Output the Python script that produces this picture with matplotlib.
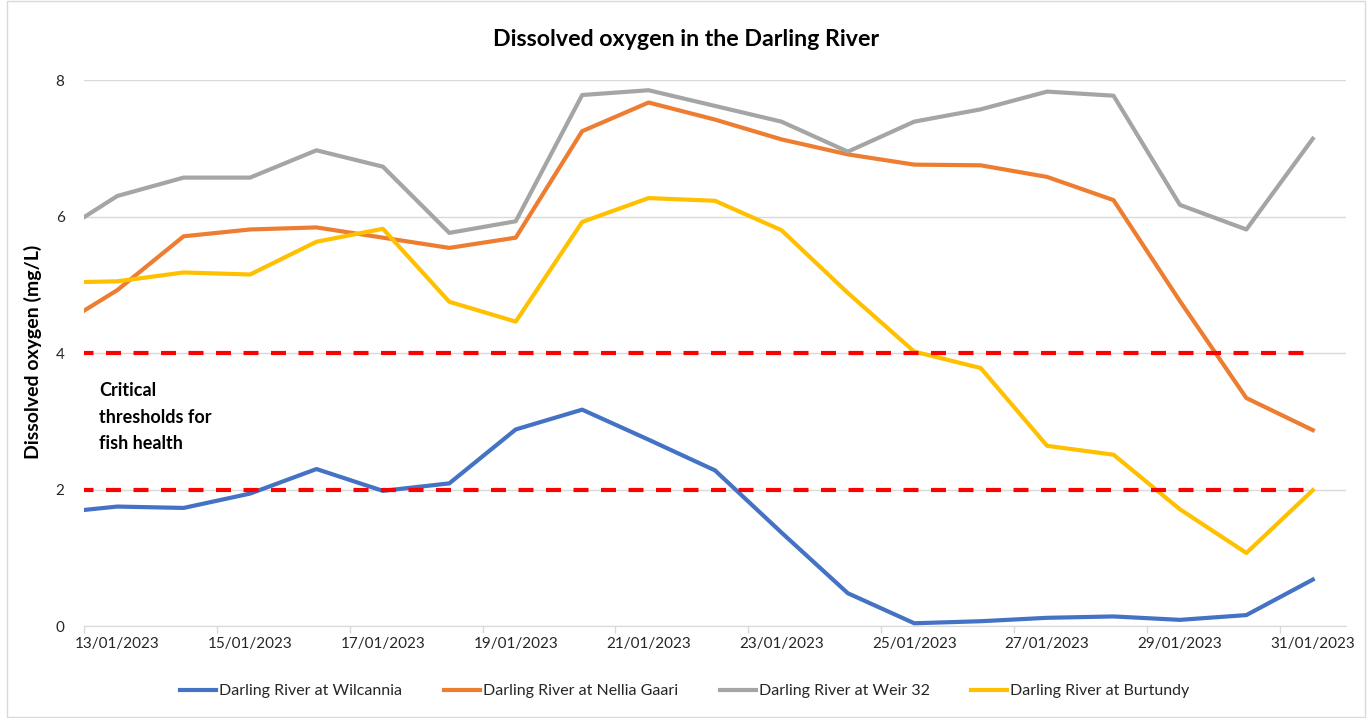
import numpy as np
import matplotlib
matplotlib.use("Agg")
import matplotlib.pyplot as plt
import pandas as pd
from matplotlib.patches import Rectangle

plt.rcParams['font.family'] = ['Lato', 'DejaVu Sans']

# Daily readings; the first (12/01) point sits just off the left of the axis
dates = ['12/01/2023', '13/01/2023', '14/01/2023', '15/01/2023', '16/01/2023',
         '17/01/2023', '18/01/2023', '19/01/2023', '20/01/2023', '21/01/2023',
         '22/01/2023', '23/01/2023', '24/01/2023', '25/01/2023', '26/01/2023',
         '27/01/2023', '28/01/2023', '29/01/2023', '30/01/2023', '31/01/2023']

wilcannia = [1.65, 1.75, 1.73, 1.94, 2.30, 1.98, 2.09, 2.88, 3.17, 2.73,
             2.28, 1.37, 0.48, 0.04, 0.07, 0.12, 0.14, 0.09, 0.16, 0.68]
nellia_gaari = [4.32, 4.92, 5.71, 5.81, 5.84, 5.69, 5.54, 5.69, 7.25, 7.67,
                7.42, 7.13, 6.91, 6.76, 6.75, 6.58, 6.24, 4.76, 3.34, 2.87]
weir_32 = [5.68, 6.30, 6.57, 6.57, 6.97, 6.73, 5.76, 5.93, 7.78, 7.85,
           7.62, 7.39, 6.95, 7.39, 7.57, 7.83, 7.77, 6.17, 5.81, 7.14]
burtundy = [5.03, 5.05, 5.18, 5.15, 5.63, 5.82, 4.75, 4.46, 5.92, 6.27,
            6.23, 5.80, 4.88, 4.02, 3.78, 2.64, 2.51, 1.71, 1.07, 1.99]

thresholds = [4, 2]

series = [
    ('Darling River at Wilcannia', wilcannia, '#4472C4'),
    ('Darling River at Nellia Gaari', nellia_gaari, '#ED7D31'),
    ('Darling River at Weir 32', weir_32, '#A5A5A5'),
    ('Darling River at Burtundy', burtundy, '#FFC000'),
]

day = pd.to_datetime(dates, dayfirst=True)
x = day + pd.Timedelta(hours=12)   # points sit in the middle of each day slot

fig = plt.figure(figsize=(13.69, 7.18), dpi=100)
ax = fig.add_axes([84 / 1369, 1 - 626 / 718, 1262 / 1369, 546 / 718])

for label, vals, col in series:
    ax.plot(x, vals, color=col, lw=3.0, label=label, solid_joinstyle='round')

for t in thresholds:
    ax.plot(x, [t] * len(x), color='#FF0000', lw=3.0, dashes=(3.6, 3.0),
            dash_capstyle='butt')

ax.set_ylim(0, 8)
ax.set_yticks([0, 2, 4, 6, 8])
ax.set_xlim(day[1], day[-1] + pd.Timedelta(days=1))

major = day[1::2]
ax.set_xticks(major)
ax.set_xticklabels([])
ax.set_xticks(major + pd.Timedelta(hours=12), minor=True)
ax.set_xticklabels([d.strftime('%d/%m/%Y') for d in major], minor=True)
ax.tick_params(axis='x', which='major', length=5, color='#D9D9D9', width=1)
ax.tick_params(axis='x', which='minor', length=0, labelsize=11, pad=8,
               labelcolor='#262626')
ax.tick_params(axis='y', length=0, labelsize=11, pad=14, labelcolor='#262626')

ax.grid(axis='y', color='#D9D9D9', lw=1)
ax.set_axisbelow(True)
for s in ['top', 'right', 'left']:
    ax.spines[s].set_visible(False)
ax.spines['bottom'].set_color('#D9D9D9')

ax.set_ylabel('Dissolved oxygen (mg/L)', fontsize=14, fontweight='bold')
ax.yaxis.set_label_coords(-(84 - 42) / 1262, 1 - (352 - 80) / 546)
fig.text(686 / 1369, 1 - 40 / 718, 'Dissolved oxygen in the Darling River',
         ha='center', va='center', fontsize=16.7, fontweight='bold')

ax.text(15 / 1262, 1 - 302 / 546, 'Critical\nthresholds for\nfish health',
        transform=ax.transAxes, ha='left', va='top', fontsize=13,
        fontweight='bold', linespacing=1.68)

handles, labels = ax.get_legend_handles_labels()
fig.legend(handles, labels, loc='center', bbox_to_anchor=(685 / 1369, 1 - 691 / 718),
           ncol=4, frameon=False, fontsize=11.5, handlelength=2.25, handletextpad=0.2,
           columnspacing=2.6, labelcolor='#262626')

fig.patches.append(Rectangle((7 / 1369, 0.002), 1358 / 1369, 0.996,
                             transform=fig.transFigure, fill=False,
                             edgecolor='#D9D9D9', lw=1))

fig.savefig('out.png', dpi=100)
